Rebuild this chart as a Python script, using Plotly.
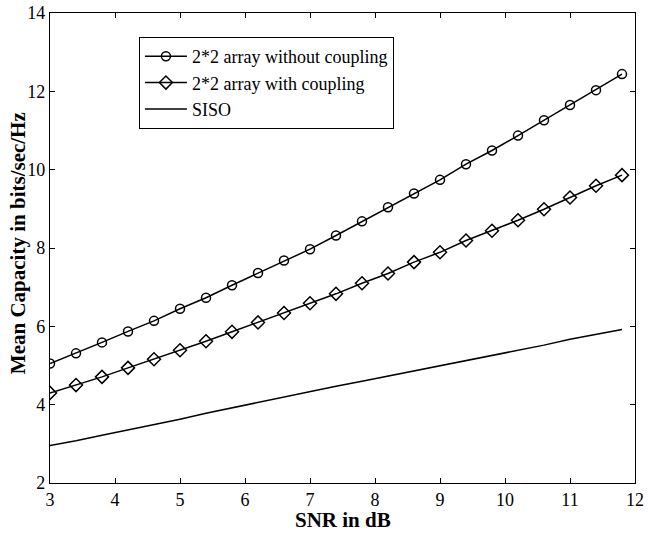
import plotly.graph_objects as go

snr = [3.0, 3.4, 3.8, 4.2, 4.6, 5.0, 5.4, 5.8, 6.2, 6.6, 7.0, 7.4, 7.8, 8.2, 8.6,
       9.0, 9.4, 9.8, 10.2, 10.6, 11.0, 11.4, 11.8]
without_coupling = [5.05, 5.31, 5.59, 5.87, 6.14, 6.45, 6.73, 7.05, 7.36, 7.68, 7.97, 8.32,
                    8.68, 9.04, 9.39, 9.74, 10.14, 10.49, 10.87, 11.26, 11.65, 12.03, 12.44]
with_coupling = [4.30, 4.50, 4.71, 4.94, 5.16, 5.39, 5.62, 5.86, 6.10, 6.34, 6.59, 6.83,
                 7.10, 7.35, 7.64, 7.89, 8.19, 8.44, 8.71, 8.99, 9.29, 9.59, 9.86]
siso = [2.96, 3.08, 3.22, 3.35, 3.49, 3.63, 3.78, 3.92, 4.05, 4.19, 4.34, 4.47,
        4.60, 4.73, 4.86, 5.00, 5.12, 5.25, 5.38, 5.52, 5.67, 5.80, 5.92]

x_ticks = [3, 4, 5, 6, 7, 8, 9, 10, 11, 12]
y_ticks = [2, 4, 6, 8, 10, 12, 14]
x_title = "SNR in dB"
y_title = "Mean Capacity in bits/sec/Hz"

FONT = "Liberation Serif"

fig = go.Figure()
fig.add_trace(go.Scatter(x=snr, y=without_coupling, mode="lines+markers",
                         name="2*2 array without coupling",
                         line=dict(color="black", width=1.5),
                         marker=dict(symbol="circle-open", size=9, color="black",
                                     line=dict(width=1.5))))
fig.add_trace(go.Scatter(x=snr, y=with_coupling, mode="lines+markers",
                         name="2*2 array with coupling",
                         line=dict(color="black", width=1.5),
                         marker=dict(symbol="diamond-open", size=10, color="black",
                                     line=dict(width=1.5))))
fig.add_trace(go.Scatter(x=snr, y=siso, mode="lines", name="SISO",
                         line=dict(color="black", width=1.5)))

axis_common = dict(showline=True, linecolor="black", linewidth=1.2, mirror="ticks",
                   ticks="inside", ticklen=5, tickcolor="black", showgrid=False,
                   zeroline=False, automargin=False,
                   tickfont=dict(family=FONT, size=18, color="black"))

fig.update_xaxes(range=[3, 12], tickvals=x_ticks, **axis_common)
fig.update_yaxes(range=[2, 14], tickvals=y_ticks, **axis_common)

fig.add_annotation(text="<b>" + x_title + "</b>", xref="paper", yref="paper",
                   x=0.5, y=-0.079, xanchor="center", yanchor="middle", showarrow=False,
                   font=dict(family=FONT, size=21, color="black"))
fig.add_annotation(text="<b>" + y_title + "</b>", xref="paper", yref="paper",
                   x=-0.055, y=0.51, xanchor="center", yanchor="middle", showarrow=False,
                   textangle=-90, font=dict(family=FONT, size=21, color="black"))

fig.update_layout(width=648, height=533, plot_bgcolor="white", paper_bgcolor="white",
                  margin=dict(l=50, r=13, t=13, b=50, autoexpand=False),
                  font=dict(family=FONT, color="black"),
                  legend=dict(x=0.152, y=0.949, xanchor="left", yanchor="top",
                              bgcolor="white", bordercolor="black", borderwidth=1,
                              font=dict(family=FONT, size=18, color="black"),
                              tracegroupgap=0, itemwidth=42))

fig.write_html("out.html", config={"displayModeBar": False},
               post_script="document.body.style.margin='0px';document.body.style.overflow='hidden';")
